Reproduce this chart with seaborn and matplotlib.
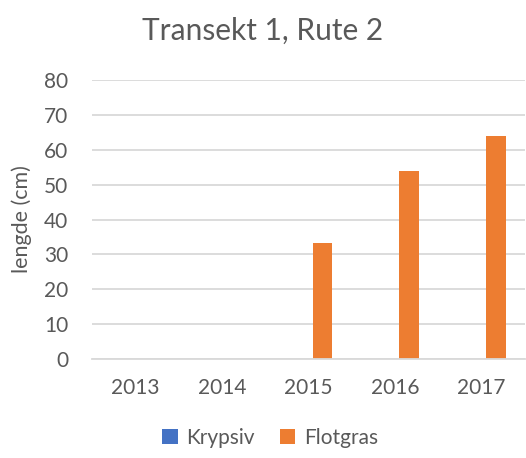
import matplotlib
matplotlib.use("Agg")
import matplotlib.pyplot as plt
from matplotlib.patches import Patch
import seaborn as sns
import pandas as pd

# Measured plant lengths per year and species
years = ["2013", "2014", "2015", "2016", "2017"]
krypsiv = [0, 0, 0, 0, 0]
flotgras = [0, 0, 33.4, 54, 64]
series_names = ["Krypsiv", "Flotgras"]
colors = ["#4472C4", "#ED7D31"]

df = pd.DataFrame({
    "year": years * 2,
    "art": [series_names[0]] * len(years) + [series_names[1]] * len(years),
    "lengde": krypsiv + flotgras,
})

sns.set_theme(style="white")
plt.rcParams["font.family"] = ["Lato", "DejaVu Sans"]
text_color = "#595959"
grid_color = "#D9D9D9"

fig = plt.figure(figsize=(5.26, 4.58), dpi=100)
ax = fig.add_axes([92 / 526, 1 - 359 / 458, (525 - 92) / 526, (359 - 80) / 458])

sns.barplot(data=df, x="year", y="lengde", hue="art", order=years,
            hue_order=series_names, palette=colors, width=0.65, gap=0.3,
            linewidth=0, saturation=1, ax=ax, legend=False)

ax.set_ylim(0, 80)
ax.set_yticks(range(0, 81, 10))
ax.yaxis.grid(True, color=grid_color, linewidth=1.3)
ax.set_axisbelow(True)
for side in ["top", "right", "left"]:
    ax.spines[side].set_visible(False)
ax.spines["bottom"].set_color(grid_color)
ax.spines["bottom"].set_linewidth(1.3)
ax.tick_params(axis="both", length=0, labelsize=15, colors=text_color)
ax.tick_params(axis="y", pad=17)
ax.tick_params(axis="x", pad=14)
ax.set_xlabel("")
ax.set_ylabel("lengde (cm)", fontsize=15.5, color=text_color, labelpad=9)

fig.text(263 / 526, 1 - 31 / 458, "Transekt 1, Rute 2", ha="center", va="center",
         fontsize=21.5, color=text_color)

handles = [Patch(facecolor=c, edgecolor="none") for c in colors]
fig.legend(handles, series_names, loc="center", bbox_to_anchor=(270 / 526, 1 - 438 / 458),
           ncol=2, frameon=False, fontsize=15, labelcolor=text_color,
           handlelength=0.75, handleheight=0.75, handletextpad=0.4, columnspacing=1.2)

fig.savefig("out.png", dpi=100)
